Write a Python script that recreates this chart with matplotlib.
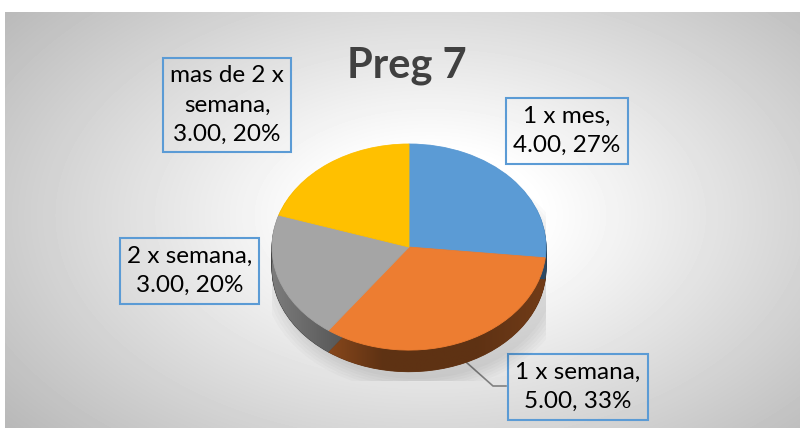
import numpy as np
import matplotlib.pyplot as plt
from matplotlib.colors import to_rgb
from matplotlib.patches import Ellipse

# datos de la pregunta 7
categorias = ["1 x mes", "1 x semana", "2 x semana", "mas de 2 x semana"]
valores = [4, 5, 3, 3]
nombres_etiqueta = ["1 x mes,", "1 x semana,", "2 x semana,", "mas de 2 x\nsemana,"]
colores = ["#5b9bd5", "#ed7d31", "#a5a5a5", "#ffc000"]

fuente = ["Lato", "DejaVu Sans"]

fig = plt.figure(figsize=(8, 4.28), dpi=100)

# --- fondo con degradado radial ---
bg = fig.add_axes([0, 0, 1, 1])
yy, xx = np.mgrid[12:428, 5:800]
r = np.sqrt(((xx - 430) / 430.0) ** 2 + ((yy - 215) / 260.0) ** 2)
grad = np.clip(1.0 - 0.27 * np.clip(r - 0.25, 0, None), 0, 1)
bg.imshow(grad, extent=(5, 800, 428, 12), cmap="gray", vmin=0, vmax=1,
          aspect="auto", interpolation="bilinear")
bg.set_xlim(0, 800)
bg.set_ylim(428, 0)
bg.axis("off")

bg.text(407, 77, "Preg 7", ha="center", va="baseline", fontsize=30,
        fontweight="bold", color="#404040", family=fuente)

# --- pastel 3D ---
ax = fig.add_axes([272 / 800, (428 - 381) / 428, 274 / 800, 237 / 428])
ax.set_facecolor("none")

# sombra suave
for k in range(6):
    ax.add_patch(Ellipse((0.06, -0.28), 2.0 + 0.05 * k, 2.0 + 0.05 * k,
                         color="black", alpha=0.018, lw=0, zorder=0))

prof = 0.21
capas = np.linspace(prof, 0, 25)
oscuros = [tuple(c * 0.42 for c in to_rgb(col)) for col in colores]
base = None
for d in capas[:-1]:
    w, _ = ax.pie(valores, colors=oscuros, startangle=90, counterclock=False,
                  center=(0, -d), wedgeprops=dict(linewidth=0.6))
    for p in w:
        p.set_edgecolor(p.get_facecolor())
    if base is None:
        base = w

# degradado horizontal del lateral
xs = np.linspace(-1, 1, 256)
fac = 0.4 + 0.35 * np.clip(-xs - 0.2, 0, 0.8) / 0.8 + 0.08 * np.clip(xs - 0.5, 0, 0.5) / 0.5
for p, col in zip(base, colores):
    rgb = np.array(to_rgb(col))
    img = (fac[:, None] * rgb[None, :])[None, :, :]
    im = ax.imshow(img, extent=(-1, 1, -1.3, 1), aspect="auto", zorder=p.get_zorder() + 0.1)
    im.set_clip_path(p)

top, _ = ax.pie(valores, colors=colores, startangle=90, counterclock=False,
                wedgeprops=dict(linewidth=0.6))
for p in top:
    p.set_edgecolor(p.get_facecolor())
    p.set_zorder(5)

ax.set_aspect("auto")
ax.set_xlim(-1, 1)
ax.set_ylim(-1.3, 1)
ax.axis("off")

# --- etiquetas ---
total = sum(valores)
posiciones = [(567, 131), (578, 387), (189.5, 271), (227, 105)]
for nombre, v, (px, py) in zip(nombres_etiqueta, valores, posiciones):
    texto = f"{nombre}\n{v:.2f}, {100 * v / total:.0f}%"
    bg.text(px, py, texto, ha="center", va="center", multialignment="center",
            fontsize=17.5, color="black", family=fuente, linespacing=1.5,
            bbox=dict(boxstyle="square,pad=0.3", fc="none", ec="#5b9bd5", lw=1.5),
            zorder=10)

# linea guia de "1 x semana"
bg.plot([466, 493, 506], [362, 386, 386], color="#808080", lw=1.2, zorder=3)

fig.savefig("out.png", dpi=100)
